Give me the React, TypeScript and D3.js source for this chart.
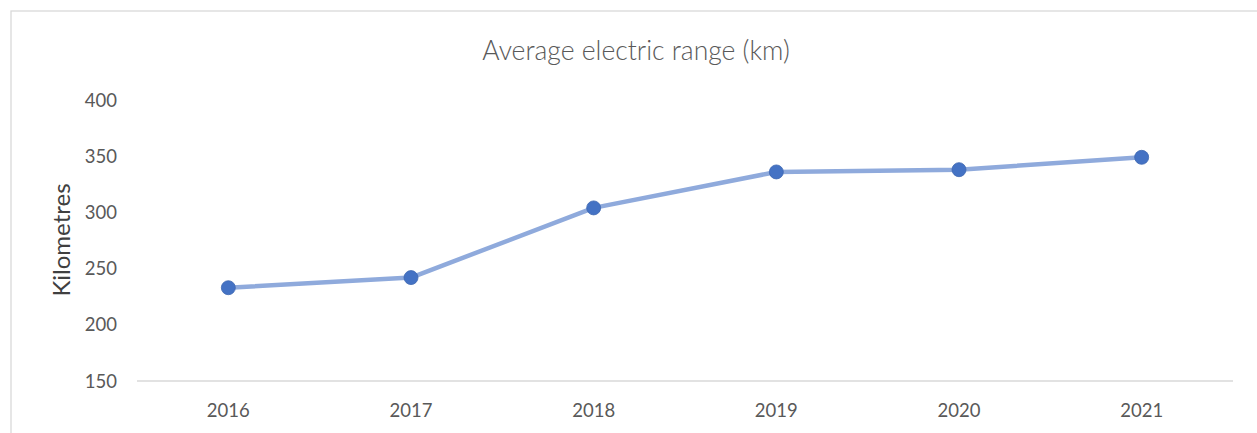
import React from "react";
import * as d3 from "d3";

const years = ["2016", "2017", "2018", "2019", "2020", "2021"];
const rangeKm = [233, 242, 304, 336, 338, 349];
const yTicks = [150, 200, 250, 300, 350, 400];

const W = 1257;
const H = 433;

export default function App() {
  const x = d3.scaleBand<string>().domain(years).range([137, 1233]);
  const y = d3.scaleLinear().domain([150, 400]).range([381, 100]);
  const cx = (d: string) => (x(d) as number) + x.bandwidth() / 2;
  const line = d3
    .line<number>()
    .x((_, i) => cx(years[i]))
    .y((d) => y(d));

  return (
    <svg
      width={W}
      height={H}
      style={{ position: "fixed", left: 0, top: 0, display: "block" }}
    >
      <rect x={0} y={0} width={W} height={H} fill="#fff" />
      <rect x={11} y={11} width={W + 20} height={H + 20} fill="none" stroke="#d9d9d9" strokeWidth={1.3} />
      <text
        x={636}
        y={60}
        textAnchor="middle"
        fontFamily="Lato, 'Open Sans', sans-serif"
        fontWeight={300}
        fontSize={26.5}
        fill="#595959"
      >
        Average electric range (km)
      </text>
      <line x1={137} x2={1233} y1={y(150)} y2={y(150)} stroke="#d9d9d9" strokeWidth={1.3} />
      {yTicks.map((t) => (
        <text
          key={t}
          x={117}
          y={y(t) + 6.5}
          textAnchor="end"
          fontFamily="Lato, 'Open Sans', sans-serif"
          fontSize={18.5}
          fill="#595959"
        >
          {t}
        </text>
      ))}
      {years.map((yr) => (
        <text
          key={yr}
          x={cx(yr)}
          y={417}
          textAnchor="middle"
          fontFamily="Lato, 'Open Sans', sans-serif"
          fontSize={18.5}
          fill="#595959"
        >
          {yr}
        </text>
      ))}
      <text
        transform={`translate(70,240) rotate(-90)`}
        textAnchor="middle"
        fontFamily="Lato, 'Open Sans', sans-serif"
        fontSize={24}
        fill="#404040"
      >
        Kilometres
      </text>
      <path d={line(rangeKm) || ""} fill="none" stroke="#8faadc" strokeWidth={4.5} strokeLinejoin="round" />
      {rangeKm.map((v, i) => (
        <circle key={i} cx={cx(years[i])} cy={y(v)} r={7} fill="#4472c4" stroke="#3d67b1" strokeWidth={0.8} />
      ))}
    </svg>
  );
}
